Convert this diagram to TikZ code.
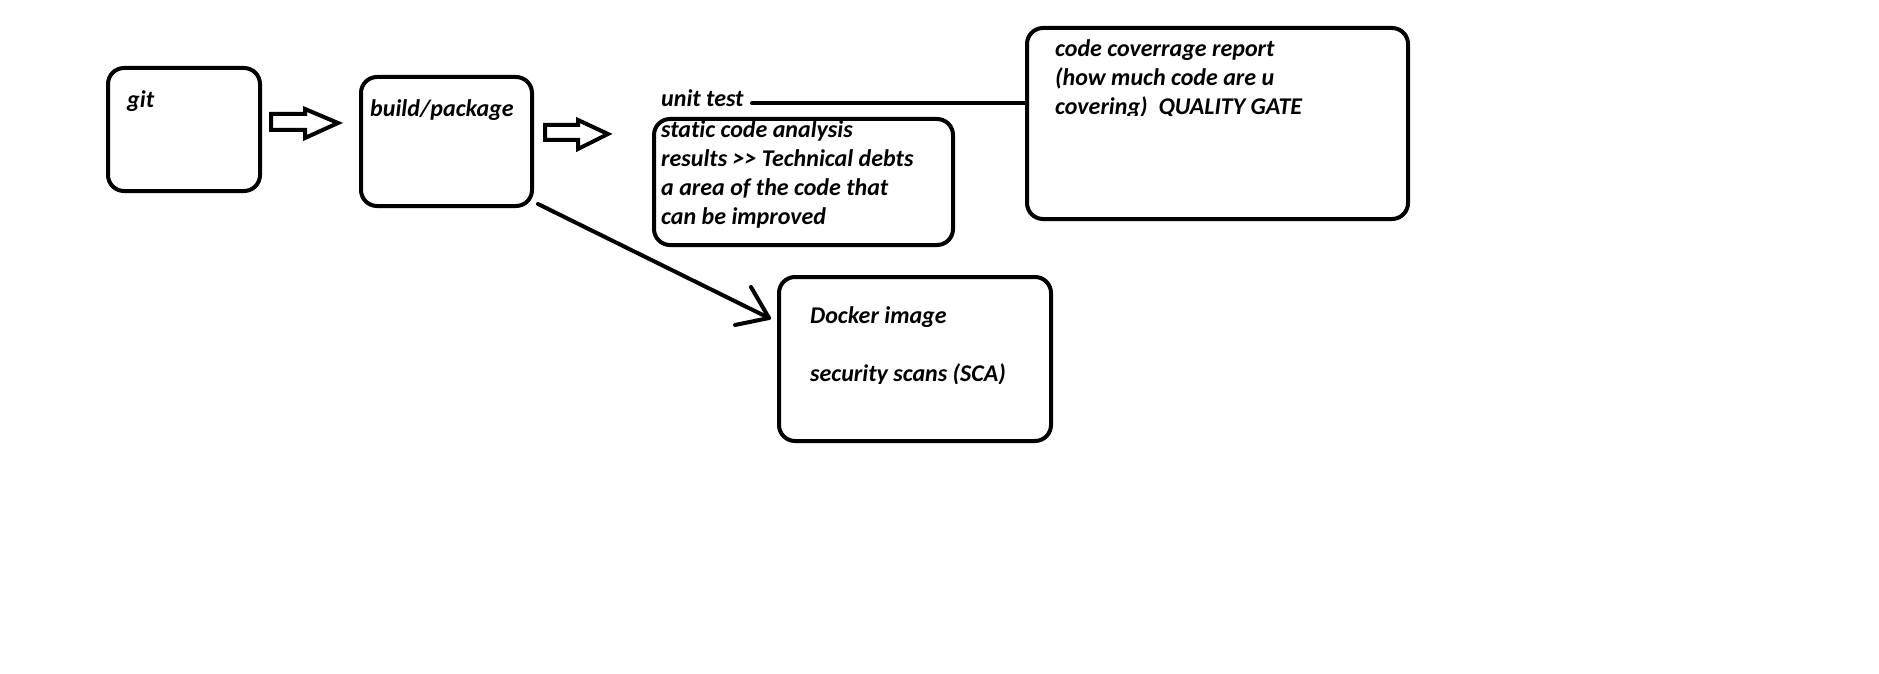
\documentclass[tikz,border=0pt]{standalone}
\usepackage{fontspec}
\setmainfont[Ligatures={NoCommon}]{Carlito}
\begin{document}
\begin{tikzpicture}[x=1pt,y=-1pt,
  box/.style={draw=black,line width=4pt,rounded corners=16pt},
  txt/.style={anchor=base west,inner sep=0pt,font=\fontsize{24pt}{29pt}\selectfont\bfseries\itshape},
  conn/.style={draw=black,line width=4pt,line cap=round,line join=round},
  blockarrow/.style={draw=black,line width=4pt,line join=miter,fill=white}]
\newcommand\txtlines[1]{\vtop{\baselineskip=29pt\lineskiplimit=-20pt #1}}
\useasboundingbox[fill=white] (0,0) rectangle (1879,674);
% boxes
\draw[box] (108,68) rectangle (260,191);
\draw[box] (361,77) rectangle (532,206);
\draw[box] (654,119) rectangle (953,245);
\draw[box] (1027,28) rectangle (1408,219);
\draw[box] (779,277) rectangle (1051,441);
% texts
\node[txt] (git) at (127,108) {git};
\node[txt] (build) at (370,117) {build/package};
\node[txt] (unit) at (661,107) {unit test};
\node[txt] (static) at (661,138) {\txtlines{\hbox{static code analysis}\hbox{results >{}> Technical debts}\hbox{a area of the code that}\hbox{can be improved}}};
\begin{scope}
\clip (1035,30) rectangle (1400,116);
\node[txt] (cov) at (1055,57) {\txtlines{\hbox{code coverrage report}\hbox{(how much code are u}\hbox{covering)\ \ QUALITY GATE}}};
\end{scope}
\begin{scope}
\clip (785,280) rectangle (1045,383);
\node[txt] (docker) at (810,323) {\txtlines{\hbox{Docker image}\hbox{}\hbox{security scans (SCA)}}};
\end{scope}
% block arrows
\draw[blockarrow] (271,114) -- (305,114) -- (305,109) -- (338,123) -- (305,138) -- (305,130) -- (271,130) -- cycle;
\draw[blockarrow] (545,125) -- (578,125) -- (578,120) -- (608,134) -- (578,149) -- (578,140) -- (545,140) -- cycle;
% unit test line to coverage box
\coordinate (uend) at (752,103);
\coordinate (covW) at (1027,103);
\draw[conn] (uend) -- (covW);
% diagonal arrow to docker
\coordinate (dstart) at (538,204);
\coordinate (dtip) at (769,318);
\coordinate (arm1) at (751,287);
\coordinate (arm2) at (735,325);
\draw[conn] (dstart) -- (dtip);
\draw[conn] (arm1) -- (dtip) -- (arm2);
\end{tikzpicture}
\end{document}
